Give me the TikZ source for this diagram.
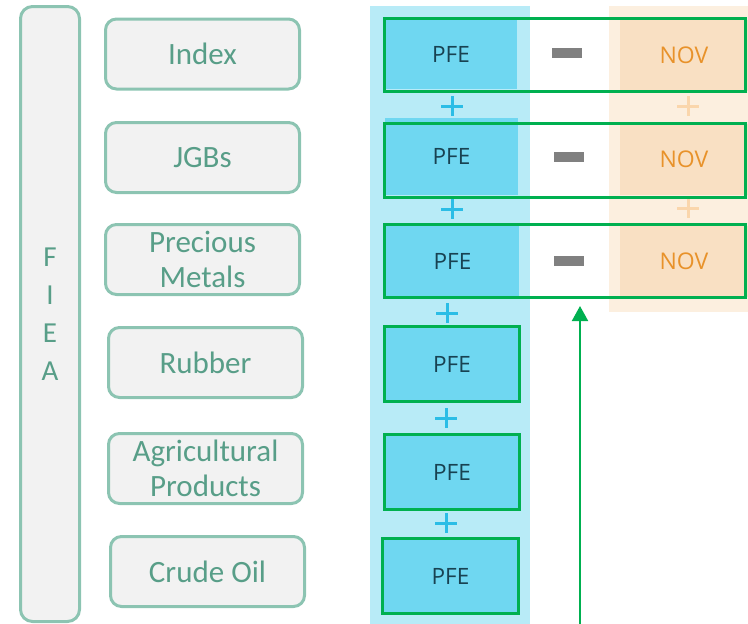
\documentclass[tikz,border=0pt]{standalone}
\usepackage{fontspec}
\setmainfont{Carlito}
\newfontfamily\uifont{Open Sans}
\usetikzlibrary{arrows.meta, positioning, fit, backgrounds, calc}
\definecolor{fieaedge}{RGB}{140,196,178}
\definecolor{fieatext}{RGB}{88,158,136}
\definecolor{boxgray}{RGB}{242,242,242}
\definecolor{colblue}{RGB}{184,235,247}
\definecolor{pfeblue}{RGB}{111,215,241}
\definecolor{pfetext}{RGB}{24,66,82}
\definecolor{colorange}{RGB}{252,239,223}
\definecolor{novfill}{RGB}{249,224,195}
\definecolor{novtext}{RGB}{232,146,42}
\definecolor{rowgreen}{RGB}{0,176,80}
\definecolor{minusgray}{RGB}{128,128,128}
\definecolor{plusblue}{RGB}{43,189,230}
\definecolor{plusorange}{RGB}{250,214,172}
\tikzset{
  catbox/.style   = {draw=fieaedge, fill=boxgray, line width=3pt, rounded corners=11pt,
                     align=center, inner sep=0pt, text=fieatext,
                     minimum width=194pt, minimum height=70pt},
  catfont/.style  = {font=\fontsize{31}{35}\selectfont},
  pfebox/.style   = {fill=pfeblue, inner sep=0pt, text=pfetext, font=\uifont\fontsize{22.5}{25}\selectfont},
  novbox/.style   = {fill=novfill, inner sep=0pt, text=novtext, font=\uifont\fontsize{23}{25}\selectfont,
                     minimum width=128pt, minimum height=71pt},
  rowbox/.style   = {draw=rowgreen, line width=3pt, inner sep=0pt},
  minusbar/.style = {fill=minusgray, inner sep=0pt, minimum width=30pt, minimum height=10pt},
  bplus/.style    = {draw=plusblue, line width=3pt},
  oplus/.style    = {draw=plusorange, line width=3pt},
  garr/.style     = {-{Triangle[width=16pt,length=15pt]}, draw=rowgreen, line width=2pt},
}

\begin{document}
\begin{tikzpicture}[x=1pt, y=-1pt]
\useasboundingbox (0,0) rectangle (748,624);

%% ---- Column backgrounds ----
\begin{pgfonlayer}{background}
  \fill[colblue]   (370,6) rectangle (530,624);
  \fill[colorange] (609,6) rectangle (748,312);
\end{pgfonlayer}

%% ---- (1) FIEA bar ----
\node[catbox, minimum width=59pt, minimum height=615pt, rounded corners=12pt,
      font=\fontsize{29}{38}\selectfont] (fiea) at (50,314) {F\\I\\E\\A};

%% ---- (2) Categories ----
\node[catbox, catfont] (index)    at (202.5, 54)   {Index};
\node[catbox, catfont] (jgbs)     at (202.5, 157.5) {JGBs};
\node[catbox, catfont] (precious) at (202.5, 259.5) {Precious\\Metals};
\node[catbox, catfont] (rubber)   at (205.5, 362.5) {Rubber};
\node[catbox, catfont] (agri)     at (205.5, 468.5) {Agricultural\\Products};
\node[catbox, catfont] (crude)    at (207.5, 571.5) {Crude Oil};

%% ---- (3) PFE column ----
\node[pfebox, minimum width=132pt, minimum height=70pt] (pfe1) at (451, 54)    {PFE};
\node[pfebox, minimum width=133pt, minimum height=77pt] (pfe2) at (451.5,156.5) {PFE};
\node[pfebox, minimum width=133pt, minimum height=72pt] (pfe3) at (452.5,261)   {PFE};
\node[pfebox, rowbox, minimum width=135pt, minimum height=75pt] (pfe4) at (452, 364)   {PFE};
\node[pfebox, rowbox, minimum width=135pt, minimum height=75pt] (pfe5) at (452, 472)   {PFE};
\node[pfebox, rowbox, minimum width=136pt, minimum height=75pt] (pfe6) at (450.5,576)  {PFE};

%% ---- (4) NOV column ----
\node[novbox] (nov1) at (684, 55)    {NOV};
\node[novbox] (nov2) at (684, 159.5) {NOV};
\node[novbox] (nov3) at (684, 261.5) {NOV};

%% ---- (5) Minus signs ----
\node[minusbar] (minus1) at (567, 53)  {};
\node[minusbar] (minus2) at (569, 157) {};
\node[minusbar] (minus3) at (569, 261) {};

%% ---- (6) Plus signs ----
\foreach \px/\py in {452/106, 452/209, 447/313, 446/418, 446/523}
  \draw[bplus] (\px,\py) +(-11,0) -- +(11,0) +(0,-10) -- +(0,10);
\foreach \py in {106, 208}
  \draw[oplus] (688,\py) +(-11,0) -- +(11,0) +(0,-10) -- +(0,10);

%% ---- (7) Row frames PFE - NOV ----
\node[rowbox, minimum width=361pt, minimum height=73pt] (row1) at (565, 55)    {};
\node[rowbox, minimum width=361pt, minimum height=74pt] (row2) at (565, 160.5) {};
\node[rowbox, minimum width=361pt, minimum height=73pt] (row3) at (565, 261)   {};

%% Arrow up into the third row
\coordinate (arrbase) at (580,624);
\draw[garr, shorten >=7pt] (arrbase) -- (arrbase |- row3.south);

\end{tikzpicture}
\end{document}
